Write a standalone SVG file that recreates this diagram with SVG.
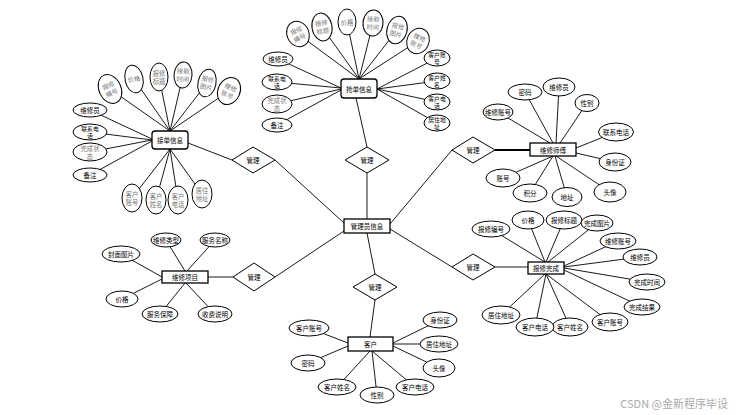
<svg xmlns="http://www.w3.org/2000/svg" width="739" height="415" viewBox="0 0 739 415">
<style>
.e{fill:#fff;stroke:#000;stroke-width:1}
.r{fill:#fff;stroke:#000;stroke-width:1.3}
.d{fill:#fff;stroke:#000;stroke-width:1}
#lines line{stroke:#000;stroke-width:0.9}
text{font-family:"Noto Sans CJK SC","Liberation Sans",sans-serif;font-size:6.5px;fill:#000;text-anchor:middle;dominant-baseline:central}
text.g{fill:#777;font-size:6.3px}
text.s{font-size:5.8px}
text.w{fill:#aaa;font-size:11px;text-anchor:end}
</style>
<rect x="0" y="0" width="739" height="415" fill="#fff"/>
<g id="lines">
<line x1="298" y1="34" x2="359" y2="79"/><line x1="322" y1="27" x2="359" y2="79"/><line x1="347" y1="22" x2="359" y2="79"/><line x1="373" y1="23" x2="359" y2="79"/><line x1="397" y1="30" x2="359" y2="79"/><line x1="418" y1="41" x2="359" y2="79"/>
<line x1="278" y1="59" x2="341" y2="88"/><line x1="277" y1="82" x2="341" y2="88"/><line x1="277" y1="104" x2="341" y2="89"/><line x1="277" y1="125" x2="341" y2="90"/>
<line x1="437" y1="58" x2="377" y2="89"/><line x1="437" y1="81" x2="377" y2="89"/><line x1="437" y1="102" x2="377" y2="89"/><line x1="437" y1="123" x2="377" y2="89"/>
<line x1="356" y1="98" x2="367" y2="147"/><line x1="367" y1="173" x2="367" y2="219"/>
<line x1="110" y1="89" x2="170" y2="131"/><line x1="134" y1="79" x2="170" y2="131"/><line x1="159" y1="77" x2="170" y2="131"/><line x1="183" y1="75" x2="170" y2="131"/><line x1="207" y1="83" x2="170" y2="131"/><line x1="229" y1="91" x2="170" y2="131"/>
<line x1="90" y1="110" x2="152" y2="139"/><line x1="90" y1="132" x2="152" y2="140"/><line x1="90" y1="152" x2="152" y2="140"/><line x1="90" y1="175" x2="152" y2="141"/>
<line x1="132" y1="198" x2="170" y2="149"/><line x1="156" y1="200" x2="170" y2="149"/><line x1="178" y1="200" x2="170" y2="149"/><line x1="202" y1="194" x2="170" y2="149"/>
<line x1="188" y1="143" x2="232" y2="160"/><line x1="275" y1="160" x2="344" y2="223"/>
<line x1="390" y1="224" x2="452" y2="150"/><line x1="495" y1="150" x2="530" y2="150" style="stroke-width:2"/>
<line x1="525" y1="92" x2="553" y2="143"/><line x1="559" y1="87" x2="556" y2="143"/><line x1="587" y1="103" x2="560" y2="143"/><line x1="498" y1="112" x2="550" y2="143"/>
<line x1="616" y1="132" x2="576" y2="148"/><line x1="615" y1="162" x2="576" y2="153"/>
<line x1="503" y1="178" x2="553" y2="156"/><line x1="530" y1="193" x2="553" y2="156"/><line x1="567" y1="197" x2="555" y2="156"/><line x1="610" y1="192" x2="556" y2="156"/>
<line x1="390" y1="229" x2="452" y2="267"/><line x1="495" y1="267" x2="528" y2="267"/>
<line x1="491" y1="229" x2="545" y2="262"/><line x1="528" y1="220" x2="545" y2="262"/><line x1="564" y1="220" x2="546" y2="262"/><line x1="597" y1="223" x2="548" y2="262"/>
<line x1="618" y1="241" x2="564" y2="266"/><line x1="640" y1="257" x2="564" y2="267"/><line x1="647" y1="282" x2="564" y2="268"/><line x1="642" y1="307" x2="564" y2="270"/>
<line x1="610" y1="322" x2="546" y2="274"/><line x1="570" y1="327" x2="546" y2="274"/><line x1="535" y1="327" x2="546" y2="274"/><line x1="501" y1="315" x2="545" y2="274"/>
<line x1="208" y1="277" x2="233" y2="277"/><line x1="275" y1="277" x2="344" y2="231"/>
<line x1="166" y1="240" x2="185" y2="271"/><line x1="215" y1="240" x2="187" y2="271"/><line x1="121" y1="254" x2="162" y2="277"/><line x1="122" y1="299" x2="162" y2="279"/><line x1="160" y1="314" x2="185" y2="283"/><line x1="215" y1="314" x2="186" y2="283"/>
<line x1="367" y1="233" x2="375" y2="274"/><line x1="375" y1="300" x2="370" y2="337"/>
<line x1="309" y1="328" x2="348" y2="343"/><line x1="308" y1="363" x2="348" y2="346"/><line x1="337" y1="387" x2="370" y2="351"/><line x1="377" y1="395" x2="372" y2="351"/><line x1="415" y1="387" x2="372" y2="351"/>
<line x1="440" y1="320" x2="393" y2="343"/><line x1="439" y1="344" x2="393" y2="344"/><line x1="439" y1="368" x2="393" y2="346"/>
</g>

<g id="center"><rect class="r" x="344" y="219" width="46" height="14"/><text x="367" y="226">管理员信息</text></g>

<g id="diamond-top"><polygon class="d" points="367,147 389,160 367,173 345,160"/><text x="367" y="160">管理</text></g>
<g id="diamond-lefttop"><polygon class="d" points="253,147 275,160 253,173 232,160"/><text x="253" y="160">管理</text></g>
<g id="diamond-righttop"><polygon class="d" points="473,137 495,150 473,163 452,150"/><text x="473" y="150">管理</text></g>
<g id="diamond-rightbottom"><polygon class="d" points="473,254 495,267 473,280 452,267"/><text x="473" y="267">管理</text></g>
<g id="diamond-leftbottom"><polygon class="d" points="254,263 275,277 254,291 233,277"/><text x="254" y="277">管理</text></g>
<g id="diamond-bottom"><polygon class="d" points="375,274 397,287 375,300 353,287"/><text x="375" y="287">管理</text></g>

<g id="entity-top">
<rect class="r" x="341" y="79" width="36" height="19" rx="3"/><text x="359" y="88.5">抢单信息</text>
<g transform="translate(298,34) rotate(-25)"><ellipse class="e" rx="11" ry="13"/><text class="g" y="-4">报修</text><text class="g" y="4">编号</text></g>
<g transform="translate(322,27) rotate(-10)"><ellipse class="e" rx="10" ry="14"/><text class="g" y="-4">报修</text><text class="g" y="4">标题</text></g>
<g transform="translate(347,22)"><ellipse class="e" rx="9" ry="13"/><text class="g" y="0">价格</text></g>
<g transform="translate(373,23) rotate(5)"><ellipse class="e" rx="10" ry="13"/><text class="g" y="-4">接取</text><text class="g" y="4">时间</text></g>
<g transform="translate(397,30) rotate(15)"><ellipse class="e" rx="10" ry="14"/><text class="g" y="-4">报修</text><text class="g" y="4">图片</text></g>
<g transform="translate(418,41) rotate(25)"><ellipse class="e" rx="11" ry="13"/><text class="g" y="-4">维修</text><text class="g" y="4">账号</text></g>
<ellipse class="e" cx="278" cy="59" rx="15" ry="7"/><text x="278" y="59">维修员</text>
<ellipse class="e" cx="277" cy="82" rx="15" ry="8"/><text class="s" x="277" y="78.2">联系电</text><text class="s" x="277" y="85.8">话</text>
<ellipse class="e" cx="277" cy="104" rx="15" ry="9"/><text class="g" x="277" y="100">完成状</text><text class="g" x="277" y="108">态</text>
<ellipse class="e" cx="277" cy="125" rx="15" ry="7"/><text x="277" y="125">备注</text>
<ellipse class="e" cx="437" cy="58" rx="13" ry="8"/><text class="s" x="437" y="54.2">客户账</text><text class="s" x="437" y="61.8">号</text>
<ellipse class="e" cx="437" cy="81" rx="13" ry="8"/><text class="s" x="437" y="77.2">客户姓</text><text class="s" x="437" y="84.8">名</text>
<ellipse class="e" cx="437" cy="102" rx="13" ry="8"/><text class="s" x="437" y="98.2">客户电</text><text class="s" x="437" y="105.8">话</text>
<ellipse class="e" cx="437" cy="123" rx="13" ry="8"/><text class="s" x="437" y="119.2">居住地</text><text class="s" x="437" y="126.8">址</text>
</g>

<g id="entity-left">
<rect class="r" x="152" y="131" width="36" height="18" rx="3"/><text x="170" y="140">接单信息</text>
<g transform="translate(110,89) rotate(-25)"><ellipse class="e" rx="11" ry="15"/><text class="g" y="-4">报修</text><text class="g" y="4">编号</text></g>
<g transform="translate(134,79) rotate(-12)"><ellipse class="e" rx="9" ry="14"/><text class="g" y="0">价格</text></g>
<g transform="translate(159,77)"><ellipse class="e" rx="9" ry="14"/><text class="g" y="-4">报修</text><text class="g" y="4">标题</text></g>
<g transform="translate(183,75) rotate(5)"><ellipse class="e" rx="9" ry="13"/><text class="g" y="-4">接取</text><text class="g" y="4">时间</text></g>
<g transform="translate(207,83) rotate(12)"><ellipse class="e" rx="9" ry="14"/><text class="g" y="-4">报修</text><text class="g" y="4">图片</text></g>
<g transform="translate(229,91) rotate(25)"><ellipse class="e" rx="11" ry="14"/><text class="g" y="-4">维修</text><text class="g" y="4">账号</text></g>
<ellipse class="e" cx="90" cy="110" rx="17" ry="7"/><text x="90" y="110">维修员</text>
<ellipse class="e" cx="90" cy="132" rx="17" ry="8"/><text class="s" x="90" y="128.2">联系电</text><text class="s" x="90" y="135.8">话</text>
<ellipse class="e" cx="90" cy="152" rx="17" ry="9"/><text class="g" x="90" y="148">完成状</text><text class="g" x="90" y="156">态</text>
<ellipse class="e" cx="90" cy="175" rx="17" ry="7"/><text x="90" y="175">备注</text>
<ellipse class="e" cx="132" cy="198" rx="10" ry="14"/><text class="g" x="132" y="194">客户</text><text class="g" x="132" y="202">账号</text>
<ellipse class="e" cx="156" cy="200" rx="10" ry="14"/><text class="g" x="156" y="196">客户</text><text class="g" x="156" y="204">姓名</text>
<ellipse class="e" cx="178" cy="200" rx="10" ry="14"/><text class="g" x="178" y="196">客户</text><text class="g" x="178" y="204">电话</text>
<ellipse class="e" cx="202" cy="194" rx="10" ry="14"/><text class="g" x="202" y="190">居住</text><text class="g" x="202" y="198">地址</text>
</g>

<g id="entity-righttop">
<rect class="r" x="530" y="143" width="46" height="13"/><text x="553" y="149.5">维修师傅</text>
<ellipse class="e" cx="525" cy="92" rx="17" ry="8"/><text x="525" y="92">密码</text>
<ellipse class="e" cx="559" cy="87" rx="16" ry="9"/><text x="559" y="87">维修员</text>
<ellipse class="e" cx="587" cy="103" rx="12" ry="8.5"/><text x="587" y="103">性别</text>
<ellipse class="e" cx="498" cy="112" rx="15" ry="8"/><text x="498" y="112">维修账号</text>
<ellipse class="e" cx="616" cy="132" rx="17.5" ry="9"/><text x="616" y="132">联系电话</text>
<ellipse class="e" cx="615" cy="162" rx="16" ry="9"/><text x="615" y="162">身份证</text>
<ellipse class="e" cx="503" cy="178" rx="17" ry="9"/><text x="503" y="178">账号</text>
<ellipse class="e" cx="530" cy="193" rx="17" ry="9"/><text x="530" y="193">积分</text>
<ellipse class="e" cx="567" cy="197" rx="15" ry="9.5"/><text x="567" y="197">地址</text>
<ellipse class="e" cx="610" cy="192" rx="16" ry="10"/><text x="610" y="192">头像</text>
</g>

<g id="entity-rightbottom">
<rect class="r" x="528" y="262" width="36" height="12"/><text x="546" y="268">报修完成</text>
<ellipse class="e" cx="491" cy="229" rx="19" ry="8"/><text x="491" y="229">报修编号</text>
<ellipse class="e" cx="528" cy="220" rx="16" ry="9"/><text x="528" y="220">价格</text>
<ellipse class="e" cx="564" cy="220" rx="18" ry="9"/><text x="564" y="220">报修标题</text>
<ellipse class="e" cx="597" cy="223" rx="16" ry="8"/><text x="597" y="223">完成图片</text>
<ellipse class="e" cx="618" cy="241" rx="18" ry="8"/><text x="618" y="241">维修账号</text>
<ellipse class="e" cx="640" cy="257" rx="17" ry="8"/><text x="640" y="257">维修员</text>
<ellipse class="e" cx="647" cy="282" rx="18" ry="8"/><text x="647" y="282">完成时间</text>
<ellipse class="e" cx="642" cy="307" rx="18" ry="8"/><text x="642" y="307">完成结果</text>
<ellipse class="e" cx="610" cy="322" rx="18" ry="9"/><text x="610" y="322">客户账号</text>
<ellipse class="e" cx="570" cy="327" rx="18" ry="9"/><text x="570" y="327">客户姓名</text>
<ellipse class="e" cx="535" cy="327" rx="19" ry="9"/><text x="535" y="327">客户电话</text>
<ellipse class="e" cx="501" cy="315" rx="19" ry="9"/><text x="501" y="315">居住地址</text>
</g>

<g id="entity-leftbottom">
<rect class="r" x="162" y="271" width="46" height="12"/><text x="185" y="277">维修项目</text>
<ellipse class="e" cx="166" cy="240" rx="15" ry="7"/><text x="166" y="240">维修类型</text>
<ellipse class="e" cx="215" cy="240" rx="15" ry="7"/><text x="215" y="240">服务名称</text>
<ellipse class="e" cx="121" cy="254" rx="19" ry="8"/><text x="121" y="254">封面图片</text>
<ellipse class="e" cx="122" cy="299" rx="16" ry="8"/><text x="122" y="299">价格</text>
<ellipse class="e" cx="160" cy="314" rx="18" ry="8"/><text x="160" y="314">服务保障</text>
<ellipse class="e" cx="215" cy="314" rx="17" ry="8"/><text x="215" y="314">收费说明</text>
</g>

<g id="entity-bottom">
<rect class="r" x="348" y="337" width="45" height="14"/><text x="370.5" y="344">客户</text>
<ellipse class="e" cx="309" cy="328" rx="20" ry="8"/><text x="309" y="328">客户账号</text>
<ellipse class="e" cx="308" cy="363" rx="17" ry="8"/><text x="308" y="363">密码</text>
<ellipse class="e" cx="337" cy="387" rx="19" ry="8"/><text x="337" y="387">客户姓名</text>
<ellipse class="e" cx="377" cy="395" rx="17" ry="8"/><text x="377" y="395">性别</text>
<ellipse class="e" cx="415" cy="387" rx="19" ry="8"/><text x="415" y="387">客户电话</text>
<ellipse class="e" cx="440" cy="320" rx="17" ry="8"/><text x="440" y="320">身份证</text>
<ellipse class="e" cx="439" cy="344" rx="19" ry="8"/><text x="439" y="344">居住地址</text>
<ellipse class="e" cx="439" cy="368" rx="16" ry="9"/><text x="439" y="368">头像</text>
</g>

<text class="w" x="728" y="403">CSDN @金新程序毕设</text>
</svg>
